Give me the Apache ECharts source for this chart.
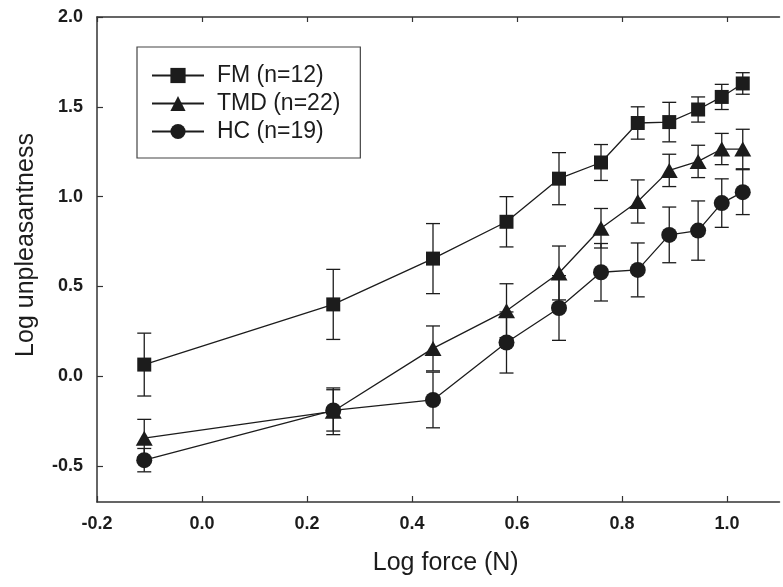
<!DOCTYPE html>
<html><head><meta charset="utf-8">
<script src="https://cdn.jsdelivr.net/npm/echarts@6.0.0/dist/echarts.min.js"></script>
<style>html,body{margin:0;padding:0;background:#fff}#c{width:783px;height:587px}</style>
</head><body><div id="c"></div>
<script>
// ---- data ----
const forceX = [-0.11, 0.25, 0.44, 0.58, 0.68, 0.76, 0.83, 0.89, 0.945, 0.99, 1.03];
const fmMean = [0.065, 0.40, 0.655, 0.86, 1.10, 1.19, 1.41, 1.415, 1.485, 1.555, 1.63];
const fmErr  = [0.175, 0.195, 0.195, 0.14, 0.145, 0.10, 0.09, 0.11, 0.07, 0.07, 0.06];
const tmdMean = [-0.345, -0.195, 0.155, 0.365, 0.575, 0.824, 0.973, 1.146, 1.196, 1.265, 1.265];
const tmdErr  = [0.105, 0.13, 0.125, 0.15, 0.15, 0.11, 0.12, 0.09, 0.09, 0.087, 0.11];
const hcMean = [-0.467, -0.19, -0.132, 0.188, 0.38, 0.579, 0.592, 0.787, 0.811, 0.964, 1.025];
const hcErr  = [0.065, 0.115, 0.155, 0.17, 0.18, 0.16, 0.15, 0.155, 0.165, 0.135, 0.125];
const seriesNames = ['FM (n=12)', 'TMD (n=22)', 'HC (n=19)'];
const xTickValues = [-0.2, 0.0, 0.2, 0.4, 0.6, 0.8, 1.0];
const yTickValues = [-0.5, 0.0, 0.5, 1.0, 1.5, 2.0];
const xTitle = 'Log force (N)';
const yTitle = 'Log unpleasantness';

// ---- styles ----
const FONT = "'Liberation Sans', Arial, Helvetica, sans-serif";
const INK = '#1c1c1c';
const AXIS = '#333';

function pts(mean) { return forceX.map((x, i) => [x, mean[i]]); }
function errPts(mean, err) { return forceX.map((x, i) => [x, mean[i], err[i]]); }

function lineSeries(name, mean, symbol, size) {
  return {
    type: 'line', name: name, data: pts(mean),
    symbol: symbol, symbolSize: size,
    lineStyle: { color: INK, width: 1.3 },
    itemStyle: { color: INK },
    z: 3, silent: true
  };
}
function errSeries(mean, err) {
  return {
    type: 'custom', data: errPts(mean, err), z: 2, silent: true,
    encode: { x: 0, y: 1 },
    renderItem: function (params, api) {
      const x = api.value(0), y = api.value(1), e = api.value(2);
      const t = api.coord([x, y + e]);
      const b = api.coord([x, y - e]);
      const hw = 7;
      const st = { stroke: INK, lineWidth: 1.3 };
      return { type: 'group', children: [
        { type: 'line', shape: { x1: t[0], y1: t[1], x2: b[0], y2: b[1] }, style: st },
        { type: 'line', shape: { x1: t[0] - hw, y1: t[1], x2: t[0] + hw, y2: t[1] }, style: st },
        { type: 'line', shape: { x1: b[0] - hw, y1: b[1], x2: b[0] + hw, y2: b[1] }, style: st }
      ]};
    }
  };
}

const chart = echarts.init(document.getElementById('c'), null, { renderer: 'canvas' });
chart.setOption({
  animation: false,
  backgroundColor: '#fff',
  grid: { left: 97, right: 3.5, top: 17, bottom: 85, containLabel: false, outerBoundsMode: 'none' },
  legend: {
    data: seriesNames,
    orient: 'vertical', left: 137, top: 47,
    padding: [17, 20, 15, 14], itemGap: 5,
    itemWidth: 52, itemHeight: 19,
    borderColor: '#444', borderWidth: 1.2,
    selectedMode: false,
    textStyle: { fontSize: 23, fontFamily: FONT, color: INK, padding: [0, 0, 0, 8] }
  },
  xAxis: [{
    type: 'value', min: -0.2, max: 1.1,
    name: xTitle, nameLocation: 'middle', nameGap: 49,
    nameTextStyle: { fontSize: 25, fontFamily: FONT, color: INK, padding: [0, 0, 0, 15] },
    axisLine: { show: true, onZero: false, lineStyle: { color: AXIS, width: 1.5 } },
    axisTick: { show: true, inside: true, length: 6, customValues: xTickValues, lineStyle: { color: AXIS, width: 1.2 } },
    axisLabel: { customValues: xTickValues, margin: 13, fontSize: 18, fontWeight: 'bold', fontFamily: FONT, color: INK,
      formatter: v => v.toFixed(1) },
    splitLine: { show: false }
  }, {
    type: 'value', min: -0.2, max: 1.1, position: 'top',
    axisLine: { show: true, onZero: false, lineStyle: { color: AXIS, width: 1.5 } },
    axisTick: { show: true, inside: true, length: 5, customValues: xTickValues, lineStyle: { color: AXIS, width: 1.2 } },
    axisLabel: { show: false },
    splitLine: { show: false }
  }],
  yAxis: {
    type: 'value', min: -0.7, max: 2.0,
    name: yTitle, nameLocation: 'middle', nameGap: 58, nameRotate: 90,
    nameTextStyle: { fontSize: 25, fontFamily: FONT, color: INK, padding: [0, 0, 0, 29] },
    axisLine: { show: true, onZero: false, lineStyle: { color: AXIS, width: 1.5 } },
    axisTick: { show: true, inside: true, length: 6, customValues: yTickValues, lineStyle: { color: AXIS, width: 1.2 } },
    axisLabel: { customValues: yTickValues, margin: 14, fontSize: 18, fontWeight: 'bold', fontFamily: FONT, color: INK,
      formatter: v => v.toFixed(1) },
    splitLine: { show: false }
  },
  series: [
    errSeries(fmMean, fmErr),
    errSeries(tmdMean, tmdErr),
    errSeries(hcMean, hcErr),
    lineSeries(seriesNames[0], fmMean, 'rect', 14),
    lineSeries(seriesNames[1], tmdMean, 'triangle', [17, 15]),
    lineSeries(seriesNames[2], hcMean, 'circle', 16)
  ]
});
</script>
</body></html>
